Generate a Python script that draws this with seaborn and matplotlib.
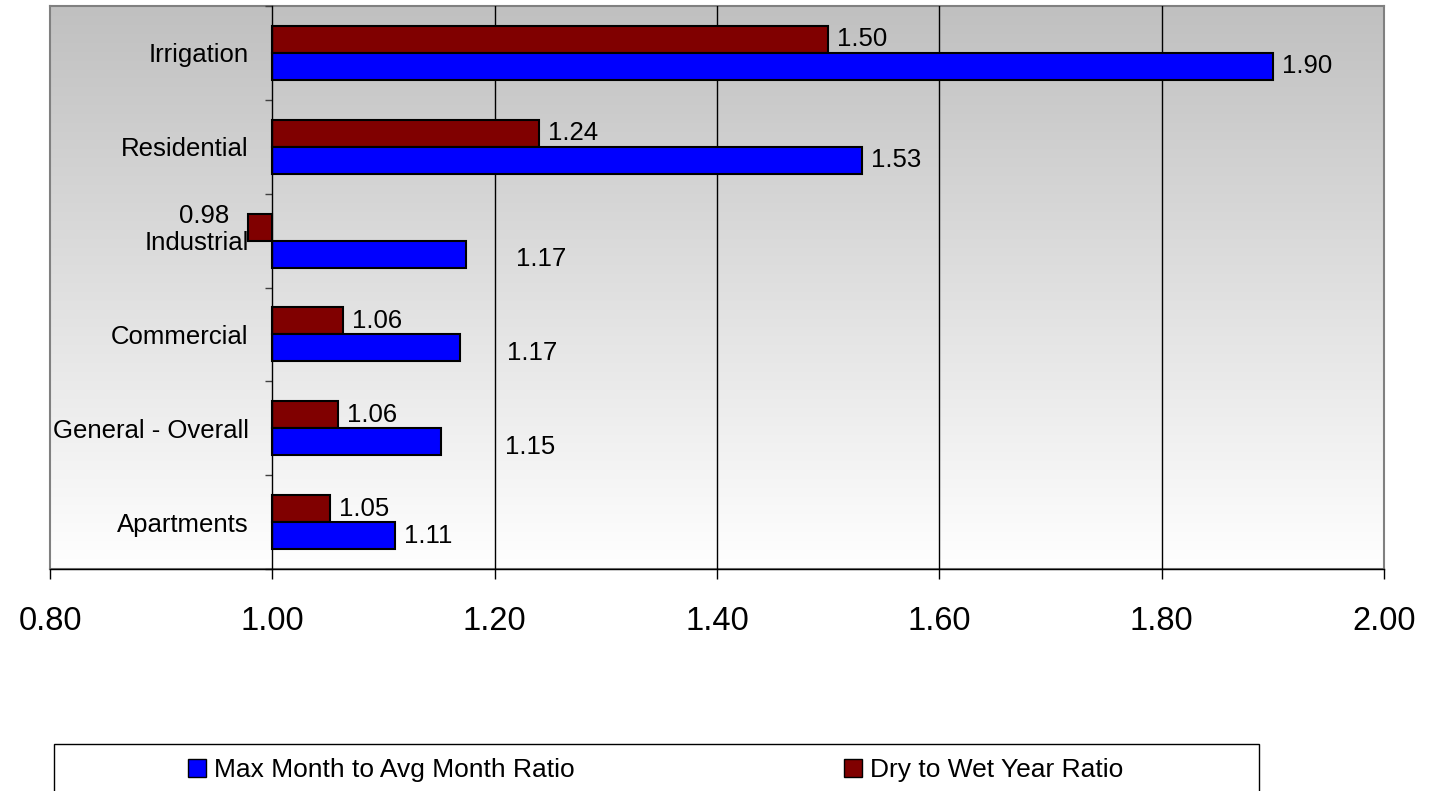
import numpy as np
import pandas as pd
import matplotlib
matplotlib.use("Agg")
import matplotlib.pyplot as plt
import seaborn as sns
from matplotlib.patches import Patch, Rectangle
from matplotlib.colors import LinearSegmentedColormap

# data
categories = ["Irrigation", "Residential", "Industrial", "Commercial",
              "General - Overall", "Apartments"]
max_month_ratio = [1.90, 1.53, 1.174, 1.169, 1.152, 1.11]
dry_wet_ratio = [1.50, 1.24, 0.978, 1.064, 1.059, 1.052]
series_names = ["Max Month to Avg Month Ratio", "Dry to Wet Year Ratio"]
x_ticks = [0.8, 1.0, 1.2, 1.4, 1.6, 1.8, 2.0]
base_value = 1.0

colors = {"Max Month to Avg Month Ratio": "#0000FF",
          "Dry to Wet Year Ratio": "#800000"}

df = pd.DataFrame({
    "category": categories * 2,
    "series": [series_names[0]] * len(categories) + [series_names[1]] * len(categories),
    "value": max_month_ratio + dry_wet_ratio,
})

plt.rcParams['font.family'] = ['Liberation Sans', 'DejaVu Sans']

W, H = 1431, 791
fig = plt.figure(figsize=(W / 100, H / 100), dpi=100)
pos = [50 / W, 1 - 569 / H, 1334 / W, 563 / H]

# gradient background (silver -> white) in its own axes behind the chart
bg = fig.add_axes(pos, zorder=0)
cmap = LinearSegmentedColormap.from_list("bgfade", ["#c0c0c0", "#ffffff"])
bg.imshow(np.linspace(0, 1, 256).reshape(-1, 1), aspect="auto", cmap=cmap,
          extent=[0, 1, 0, 1])
bg.set_xticks([])
bg.set_yticks([])
for s in bg.spines.values():
    s.set_color("#808080")
    s.set_linewidth(1.5)

ax = fig.add_axes(pos, zorder=1)
ax.set_facecolor("none")

hue_order = ["Dry to Wet Year Ratio", "Max Month to Avg Month Ratio"]
sns.barplot(data=df, y="category", x="value", hue="series", hue_order=hue_order,
            order=categories, palette=colors, saturation=1, orient="h",
            width=0.576, gap=0, errorbar=None, edgecolor="black",
            linewidth=1.5, legend=False, ax=ax)

# bars start from the 1.00 crossing, like the original
for cont in ax.containers:
    for bar in cont:
        w = bar.get_width()
        bar.set_x(base_value)
        bar.set_width(w - base_value)

# value labels; a few were dragged off their default spot in the original
special = {
    ("Industrial", "Dry to Wet Year Ratio"): (-19, 11, "right"),
    ("Industrial", "Max Month to Avg Month Ratio"): (50, -5, "left"),
    ("Commercial", "Max Month to Avg Month Ratio"): (47, -5, "left"),
    ("General - Overall", "Max Month to Avg Month Ratio"): (64, -5, "left"),
}
for cont, name in zip(ax.containers, hue_order):
    vals = df[df["series"] == name].set_index("category").loc[categories, "value"]
    for bar, (cat, v) in zip(cont, vals.items()):
        yc = bar.get_y() + bar.get_height() / 2
        dx, dy, ha = special.get((cat, name), (9, 0, "left"))
        ax.annotate(f"{v:.2f}", xy=(v, yc), xytext=(dx, dy),
                    textcoords="offset pixels", ha=ha, va="center",
                    fontsize=18.5, color="black")

ax.set_xlim(x_ticks[0], x_ticks[-1])
ax.set_ylim(len(categories) - 0.5, -0.5)
ax.set_xticks(x_ticks)
ax.set_xticklabels([f"{t:.2f}" for t in x_ticks])
for t in x_ticks[2:-1]:
    ax.axvline(t, color="black", lw=1, zorder=0.5)

ax.set_xlabel("")
ax.set_ylabel("")
ax.spines["top"].set_visible(False)
ax.spines["right"].set_visible(False)
ax.spines["left"].set_position(("data", base_value))
ax.spines["left"].set_color("black")
ax.spines["bottom"].set_color("black")
ax.spines["left"].set_linewidth(1)
ax.spines["bottom"].set_linewidth(1)

ax.tick_params(axis="x", direction="out", length=7.5, width=1, pad=19,
               labelsize=23.5, colors="black")
ax.tick_params(axis="y", which="major", length=0, pad=17, labelsize=18.5)
ax.set_yticks(np.arange(-0.5, len(categories), 1.0), minor=True)
ax.tick_params(axis="y", which="minor", direction="out", length=5, width=1,
               color="#404040")

# legend: framed box across the bottom, cut by the image edge
fig.add_artist(Rectangle((54 / W, -4 / H), 1205 / W, 51 / H,
                         transform=fig.transFigure, fill=False,
                         edgecolor="black", lw=1))
leg_x = {"Max Month to Avg Month Ratio": 188, "Dry to Wet Year Ratio": 844}
for name in series_names:
    fig.legend(handles=[Patch(facecolor=colors[name], edgecolor="black", lw=1)],
               labels=[name], loc="center left",
               bbox_to_anchor=(leg_x[name] / W, 1 - 770 / H),
               frameon=False, borderpad=0, borderaxespad=0, fontsize=19,
               handlelength=0.7, handleheight=0.7, handletextpad=0.3)

fig.savefig("out.png", dpi=100)
